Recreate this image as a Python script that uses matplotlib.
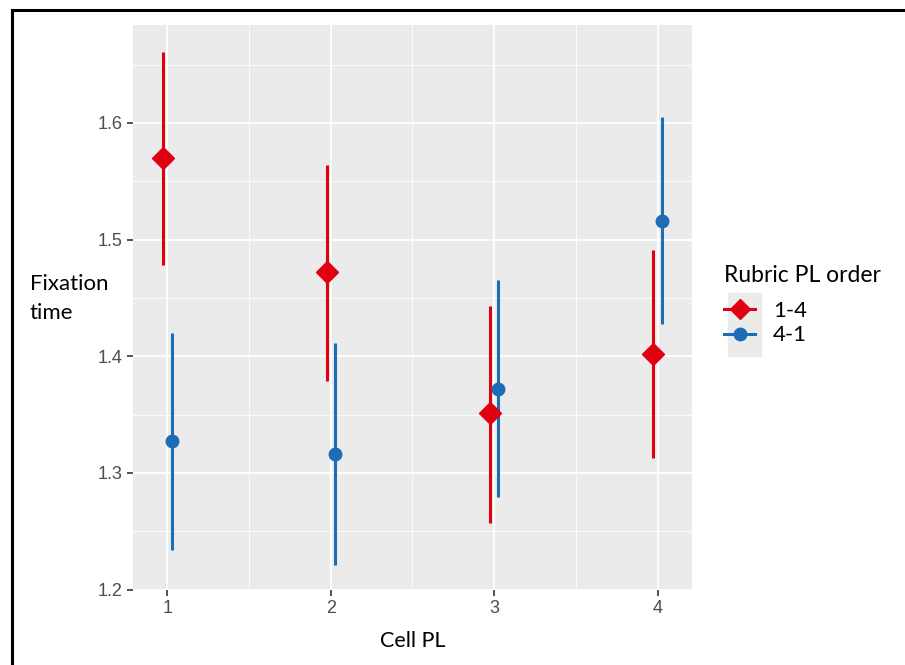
import matplotlib.pyplot as plt
from matplotlib.lines import Line2D
from matplotlib.patches import Rectangle
import numpy as np

# data
cell_pl = [1, 2, 3, 4]
groups = ['1-4', '4-1']
mean_14 = [1.570, 1.472, 1.351, 1.402]
low_14 = [1.478, 1.379, 1.257, 1.313]
high_14 = [1.661, 1.564, 1.443, 1.491]
mean_41 = [1.327, 1.316, 1.372, 1.516]
low_41 = [1.234, 1.221, 1.279, 1.428]
high_41 = [1.420, 1.411, 1.465, 1.605]

red = '#E00010'
blue = '#1B6DB5'
dodge = 0.026

fig = plt.figure(figsize=(9.05, 6.65), dpi=100)
ax = fig.add_axes([0.147, 0.1135, 0.6176, 0.849])
ax.set_facecolor('#EBEBEB')

x = np.array(cell_pl, dtype=float)
ax.vlines(x - dodge, low_14, high_14, color=red, lw=2.2, zorder=3)
ax.plot(x - dodge, mean_14, 'D', color=red, ms=11, zorder=4)
ax.vlines(x + dodge, low_41, high_41, color=blue, lw=2.2, zorder=3)
ax.plot(x + dodge, mean_41, 'o', color=blue, ms=9, zorder=4)

ax.set_xlim(0.79, 4.21)
ax.set_ylim(1.2, 1.684)
ax.set_xticks(cell_pl)
ax.set_yticks([1.2, 1.3, 1.4, 1.5, 1.6])
ax.set_yticklabels(['1.2', '1.3', '1.4', '1.5', '1.6'])
ax.set_xticks([1.5, 2.5, 3.5], minor=True)
ax.set_yticks([1.25, 1.35, 1.45, 1.55, 1.65], minor=True)
ax.grid(which='major', color='white', lw=1.3, zorder=0)
ax.grid(which='minor', color='white', lw=0.6, zorder=0)
ax.set_axisbelow(True)
for s in ax.spines.values():
    s.set_visible(False)
ax.tick_params(which='major', length=4, width=1.2, color='#333333',
               labelsize=13, labelcolor='#4D4D4D')
ax.tick_params(which='minor', length=0)
for t in ax.get_xticklabels() + ax.get_yticklabels():
    t.set_family('Liberation Sans')

lab_font = 'Lato'
ax.set_xlabel('Cell PL', fontsize=15.5, family=lab_font, labelpad=10)
fig.text(0.033, 0.551, 'Fixation\ntime', fontsize=16, family=lab_font,
         ha='left', va='center', linespacing=1.6)

# legend key background
fig.add_artist(Rectangle((728 / 905, 1 - 356 / 665), 33 / 905, 63 / 665,
                         transform=fig.transFigure, color='#EBEBEB', zorder=0))

handles = [Line2D([], [], color=red, marker='D', ms=10, lw=2.2),
           Line2D([], [], color=blue, marker='o', ms=9, lw=2.2)]
leg = fig.legend(handles, groups, title='Rubric PL order', loc='upper left',
                 bbox_to_anchor=(0.778, 0.632), frameon=False,
                 handlelength=1.4, handletextpad=0.8,
                 labelspacing=0.2, prop={'family': lab_font, 'size': 16})
leg.get_title().set_family(lab_font)
leg.get_title().set_fontsize(16.5)
leg._legend_box.align = 'left'
leg._legend_box.sep = 11

# outer frame
fig.add_artist(Line2D([0.0133, 1.0], [0.9857, 0.9857], color='black', lw=2.2))
fig.add_artist(Line2D([0.0133, 0.0133], [0.0, 0.9857], color='black', lw=2.2))

fig.savefig('out.png', dpi=100)
